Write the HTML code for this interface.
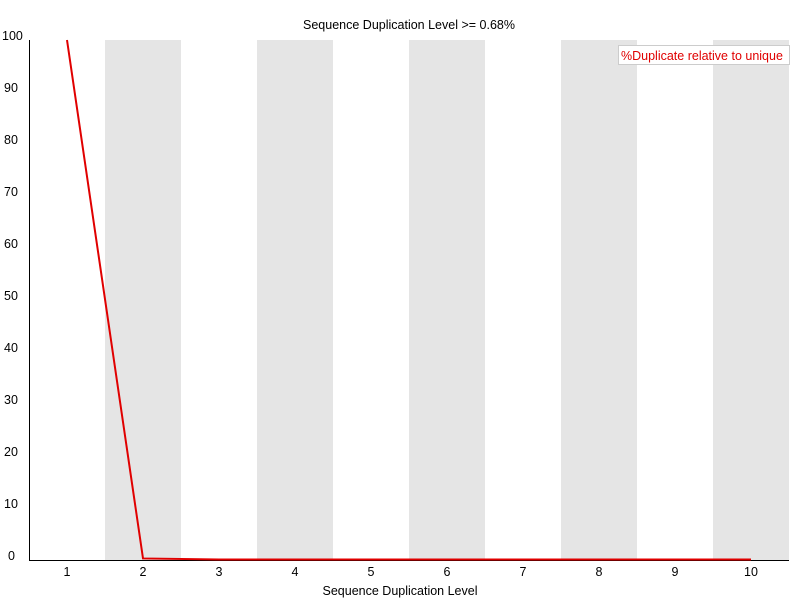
<!DOCTYPE html>
<html><head><meta charset="utf-8"><style>
body{margin:0;background:#fff}
svg text{font-family:"Liberation Sans",sans-serif;font-size:12.5px;fill:#000}
</style></head><body>
<svg id="chart" width="800" height="600">
<g id="bands"></g>
<text x="409" y="29" text-anchor="middle">Sequence Duplication Level &gt;= 0.68%</text>
<g id="yticks"></g><g id="xticks"></g>
<line x1="29.5" y1="40" x2="29.5" y2="560.5" stroke="#000"/>
<line x1="29" y1="560.5" x2="789" y2="560.5" stroke="#000"/>
<polyline id="line" fill="none" stroke="#e00000" stroke-width="2"/>
<text x="400" y="595" text-anchor="middle">Sequence Duplication Level</text>
<g>
<rect x="618.5" y="45.5" width="171" height="19" fill="#fff" stroke="#ccc"/>
<text x="621" y="60" style="fill:#e00000">%Duplicate relative to unique</text>
</g>
</svg>
<script>
const categories=["1","2","3","4","5","6","7","8","9","10"];
const values=[100,0.3,0.1,0.1,0.1,0.1,0.1,0.1,0.1,0.1];
const yTicks=[0,10,20,30,40,50,60,70,80,90,100];
const NS="http://www.w3.org/2000/svg";
const x0=29,bw=76,yTop=40,yBot=560;
const xs=i=>x0+bw*i+bw/2;
const ys=v=>yBot-(v/100)*(yBot-yTop);
const bands=document.getElementById('bands'),xt=document.getElementById('xticks'),yt=document.getElementById('yticks');
categories.forEach((c,i)=>{
 if(i%2==1){const r=document.createElementNS(NS,'rect');
 r.setAttribute('x',x0+bw*i);r.setAttribute('y',yTop);r.setAttribute('width',bw);r.setAttribute('height',yBot-yTop);r.setAttribute('fill','#e5e5e5');
 
 
 bands.appendChild(r);}
 const t=document.createElementNS(NS,'text');
 t.setAttribute('x',xs(i));t.setAttribute('y',576);t.setAttribute('text-anchor','middle');t.textContent=c;
 
 
 xt.appendChild(t);
});
yTicks.forEach(v=>{
 const t=document.createElementNS(NS,'text');
 t.setAttribute('x',v==100?2:(v==0?8:4));t.setAttribute('y',ys(v));t.textContent=v;
 
 
 yt.appendChild(t);
});
document.getElementById('line').setAttribute('points',values.map((v,i)=>xs(i)+','+ys(v)).join(' '));
</script>
</body></html>
